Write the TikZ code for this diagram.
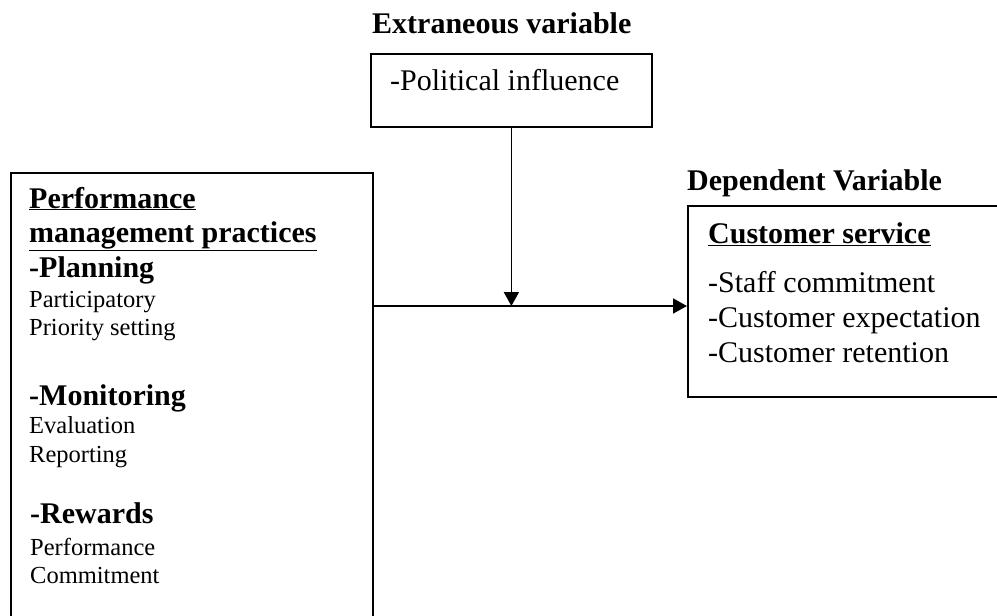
\documentclass[tikz,border=0pt]{standalone}
\usepackage{fontspec}
\setmainfont{Liberation Serif}
\usetikzlibrary{arrows.meta}
\begin{document}
\begin{tikzpicture}[x=1pt,y=-1pt,
  boxst/.style={draw, line width=1.8pt, inner sep=0pt, anchor=north west},
  big/.style={anchor=base west, inner sep=0pt, font=\fontsize{30}{34}\selectfont},
  bigb/.style={anchor=base west, inner sep=0pt, font=\fontsize{30}{34}\selectfont\bfseries},
  small/.style={anchor=base west, inner sep=0pt, font=\fontsize{24.5}{28}\selectfont},
  conn/.style={line width=1.8pt, -{Triangle[length=14pt,width=15pt]}}]
\useasboundingbox (0,0) rectangle (997,616);
\clip (0,0) rectangle (997,616);
% boxes
\node[boxst, minimum width=281pt, minimum height=73pt] (top) at (370,53) {};
\node[boxst, minimum width=362pt, minimum height=520pt] (left) at (10,172) {};
\node[boxst, minimum width=340pt, minimum height=191pt] (right) at (687,205) {};
% titles
\node[bigb] (ttop) at (372,33) {Extraneous variable};
\node[bigb] (tright) at (687,190) {Dependent Variable};
% top box text
\node[big] (pol) at (390,90) {-Political influence};
% left box text
\node[bigb] (l1) at (29,208) {\underline{Performance}};
\node[bigb] (l2) at (29,242) {\underline{management practices}};
\node[bigb] (l3) at (29,277) {-Planning};
\node[small] (l4) at (29,307) {Participatory};
\node[small] (l5) at (29,335) {Priority setting};
\node[bigb] (l6) at (29,405) {-Monitoring};
\node[small] (l7) at (29,433) {Evaluation};
\node[small] (l8) at (29,462) {Reporting};
\node[bigb] (l9) at (30,523) {-Rewards};
\node[small] (l10) at (30,555) {Performance};
\node[small] (l11) at (30,583) {Commitment};
% right box text
\node[bigb] (r1) at (708,243) {\underline{Customer service}};
\node[big] (r2) at (708,292) {-Staff commitment};
\node[big] (r3) at (708,327) {-Customer expectation};
\node[big] (r4) at (708,362) {-Customer retention};
% connectors
\coordinate (ls) at (left.north east |- 0,306);
\coordinate (rs) at (right.north west |- 0,306);
\coordinate (mid) at (top.south |- 0,306);
\draw[conn] (ls) -- (rs);
\draw[conn] (top.south) -- (mid);
\end{tikzpicture}
\end{document}
